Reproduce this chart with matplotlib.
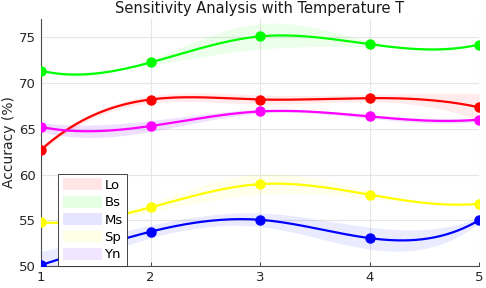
import numpy as np
import matplotlib.pyplot as plt

T = [1, 2, 3, 4, 5]
names = ['Lo', 'Bs', 'Ms', 'Sp', 'Yn']
acc_lo = [62.7, 68.2, 68.2, 68.35, 67.35]
acc_bs = [71.35, 72.25, 75.1, 74.25, 74.2]
acc_ms = [50.1, 53.75, 55.05, 53.05, 55.0]
acc_sp = [54.8, 56.4, 58.95, 57.8, 56.8]
acc_yn = [65.2, 65.3, 66.9, 66.35, 66.0]
std_lo = [0.3, 0.4, 0.5, 0.4, 1.5]
std_bs = [0.1, 0.3, 1.4, 0.3, 0.1]
std_ms = [1.5, 0.7, 0.75, 1.2, 0.3]
std_sp = [0.2, 0.5, 1.1, 0.4, 0.2]
std_yn = [0.5, 0.6, 0.2, 0.2, 0.2]

line_colors = ['#ff0000', '#00ff00', '#0000ff', '#ffff00', '#ff00ff']
band_colors = ['#ff0000', '#00ff00', '#0000ff', '#ffff00', '#8000ff']


def spline(x, y, xs):
    # not-a-knot cubic spline
    x = np.asarray(x, float)
    y = np.asarray(y, float)
    n = len(x)
    h = np.diff(x)
    A = np.zeros((n, n))
    b = np.zeros(n)
    A[0, 0], A[0, 1], A[0, 2] = h[1], -(h[0] + h[1]), h[0]
    A[-1, -3], A[-1, -2], A[-1, -1] = h[-1], -(h[-2] + h[-1]), h[-2]
    for i in range(1, n - 1):
        A[i, i - 1] = h[i - 1]
        A[i, i] = 2 * (h[i - 1] + h[i])
        A[i, i + 1] = h[i]
        b[i] = 6 * ((y[i + 1] - y[i]) / h[i] - (y[i] - y[i - 1]) / h[i - 1])
    M = np.linalg.solve(A, b)
    idx = np.clip(np.searchsorted(x, xs) - 1, 0, n - 2)
    x0, x1 = x[idx], x[idx + 1]
    hh = x1 - x0
    a = (x1 - xs) / hh
    c = (xs - x0) / hh
    return (a * y[idx] + c * y[idx + 1]
            + ((a**3 - a) * M[idx] + (c**3 - c) * M[idx + 1]) * hh**2 / 6)


plt.rcParams['font.family'] = 'DejaVu Sans'
fig = plt.figure(figsize=(4.86, 2.88), dpi=100)
ax = fig.add_axes([0.0844, 0.0764, 0.9012, 0.8576])

xs = np.linspace(1, 5, 300)
series = [acc_lo, acc_bs, acc_ms, acc_sp, acc_yn]
stds = [std_lo, std_bs, std_ms, std_sp, std_yn]

handles = []
for k in range(5):
    y = np.array(series[k])
    s = np.array(stds[k])
    up = spline(T, y + s, xs)
    lo = spline(T, y - s, xs)
    h = ax.fill_between(xs, lo, up, color=band_colors[k], alpha=0.08 if k != 4 else 0.12,
                        lw=0, label=names[k])
    handles.append(h)

for k in range(5):
    ax.plot(xs, spline(T, series[k], xs), color=line_colors[k], lw=1.6, zorder=3)
    ax.plot(T, series[k], 'o', color=line_colors[k], ms=6.5, zorder=4)

ax.set_xlim(1, 5)
ax.set_ylim(50, 77)
ax.set_xticks(T)
ax.set_yticks([50, 55, 60, 65, 70, 75])
ax.grid(True, color='#e6e6e6', lw=0.8)
ax.set_axisbelow(True)
for sp in ['top', 'right']:
    ax.spines[sp].set_visible(False)
for sp in ['left', 'bottom']:
    ax.spines[sp].set_color('#4d4d4d')
ax.tick_params(direction='in', length=3, colors='#262626', labelsize=9.5, width=0.6)
ax.tick_params(axis='y', length=0)
ax.set_title('Sensitivity Analysis with Temperature T', fontsize=10.5, color='#1a1a1a', pad=4)
ax.set_ylabel('Accuracy (%)', fontsize=10, color='#262626', labelpad=2)

leg = ax.legend(handles=handles, loc='lower left', bbox_to_anchor=(0.039, 0.0),
                borderaxespad=0, fontsize=9.5, handlelength=3.0, handleheight=1.0,
                labelspacing=0.3, borderpad=0.35, handletextpad=0.15,
                fancybox=False, framealpha=1)
leg.get_frame().set_edgecolor('#262626')
leg.get_frame().set_linewidth(0.6)
for p in leg.get_patches():
    p.set_alpha(0.1)

fig.savefig('out.png', dpi=100)
